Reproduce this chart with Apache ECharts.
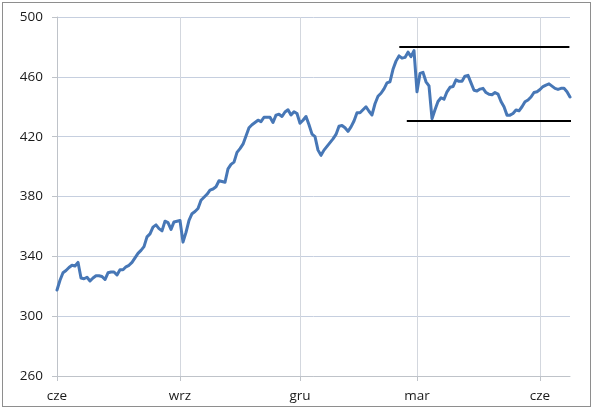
<!DOCTYPE html>
<html>
<head>
<meta charset="utf-8">
<script src="https://cdn.jsdelivr.net/npm/echarts@6/dist/echarts.min.js"></script>
<style>
  html, body { margin: 0; padding: 0; background: #fff; }
  #wrap { position: relative; width: 595px; height: 410px; }
  #chart { position: absolute; left: 0; top: 0; width: 595px; height: 410px; }
  #frame { position: absolute; left: 2px; top: 2px; width: 587px; height: 403px;
           border: 1px solid #8e8e8e; pointer-events: none; }
</style>
</head>
<body>
<div id="wrap"><div id="chart"></div><div id="frame"></div></div>
<script>
// Index values (one value per ~equal time step)
const values = [
  317.5, 324, 329, 330.5, 332.5, 334, 333.5, 336, 325.5, 325,
  326, 323.5, 325.5, 327, 327, 326.5, 324.5, 329, 329.5, 329.5,
  327.5, 331, 331, 333, 334, 336, 339, 342, 344, 346.5,
  353, 355, 359.5, 361, 358.5, 357, 363.5, 362.5, 358, 363,
  363.5, 364, 349.5, 356, 364, 368.5, 370, 372, 377.5, 379.5,
  381.5, 384.3, 385, 386.5, 390.5, 390, 389.5, 398.5, 401.5, 403,
  409.5, 412, 415, 420.5, 426, 428, 429.5, 431, 430, 433,
  433, 433, 429.5, 434.4, 435, 433.5, 436.5, 438, 434.5, 436.7,
  435.5, 429, 431, 433.5, 428, 421.7, 420, 411, 407.5, 411,
  413.5, 416, 418.5, 421.5, 427, 427.5, 426, 423.5, 426.5, 430.5,
  436, 436, 438, 440, 437, 434.5, 442, 447, 449, 452,
  456, 456.7, 465, 470.5, 474, 472.5, 473, 476.5, 473.5, 477.5,
  450, 462.3, 463, 456.7, 454, 432, 438, 443.5, 446, 445,
  450, 453, 453.5, 458, 457, 457, 460.5, 461, 456, 451,
  450.5, 451.8, 452.3, 449.5, 448.3, 448, 449.5, 448.5, 443.5, 440,
  434.4, 434.4, 435.5, 437.8, 437.3, 440, 443.3, 444.5, 446.5, 449.5,
  450, 451.5, 453.5, 454.5, 455.3, 453.8, 452.3, 451.6, 452.3, 452.3,
  450, 446.5
];

// Month tick labels and the step index where each falls
const tickLabels = ['cze', 'wrz', 'gru', 'mar', 'cze'];
const tickIndex = [0, 41, 81, 120, 161];

// Y axis ticks
const yTicks = [260, 300, 340, 380, 420, 460, 500];

// Horizontal reference lines: [startStep, endStep, level]
const resistance = [114.1, 170.8, 480];
const support = [116.6, 173.4, 430.5];

const categories = values.map((_, i) => {
  const k = tickIndex.indexOf(i);
  return k >= 0 ? tickLabels[k] : '';
});
const showAt = (i) => tickIndex.indexOf(i) >= 0;

const font = '"Open Sans", "Noto Sans", sans-serif';
const chart = echarts.init(document.getElementById('chart'), null, { renderer: 'canvas' });
chart.setOption({
  animation: false,
  backgroundColor: '#fff',
  grid: { left: 57, top: 17, right: 25, bottom: 34, containLabel: false },
  xAxis: [
    {
      type: 'category',
      data: categories,
      boundaryGap: false,
      axisLine: { show: true, lineStyle: { color: '#bfc3c9', width: 1 } },
      axisTick: { show: true, inside: false, length: 5, interval: showAt,
                  lineStyle: { color: '#bfc3c9' } },
      axisLabel: { interval: showAt, margin: 13, color: '#1a1a1a',
                   fontFamily: font, fontSize: 13.5 },
      splitLine: { show: true, interval: showAt, lineStyle: { color: '#d3d7de', width: 1 } }
    },
    {
      type: 'value', min: 0, max: values.length - 1, show: false,
      splitLine: { show: false }
    }
  ],
  yAxis: {
    type: 'value',
    min: 260, max: 500, interval: 40,
    axisLine: { show: true, lineStyle: { color: '#bfc3c9' } },
    axisTick: { show: true, inside: false, length: 5, customValues: yTicks,
                lineStyle: { color: '#bfc3c9' } },
    axisLabel: { customValues: yTicks, margin: 14, color: '#1a1a1a',
                 fontFamily: font, fontSize: 13.5 },
    splitLine: { show: true, lineStyle: { color: '#c6cfdf', width: 1 } }
  },
  series: [
    {
      type: 'line',
      data: values,
      showSymbol: false,
      symbol: 'none',
      lineStyle: { color: '#4777b6', width: 3, join: 'round', cap: 'round' },
      z: 3
    },
    {
      type: 'line', xAxisIndex: 1, clip: false, showSymbol: false, symbol: 'none',
      data: [[resistance[0], resistance[2]], [resistance[1], resistance[2]]],
      lineStyle: { color: '#000', width: 2 }, z: 4
    },
    {
      type: 'line', xAxisIndex: 1, clip: false, showSymbol: false, symbol: 'none',
      data: [[support[0], support[2]], [support[1], support[2]]],
      lineStyle: { color: '#000', width: 2 }, z: 4
    }
  ]
});
</script>
</body>
</html>
